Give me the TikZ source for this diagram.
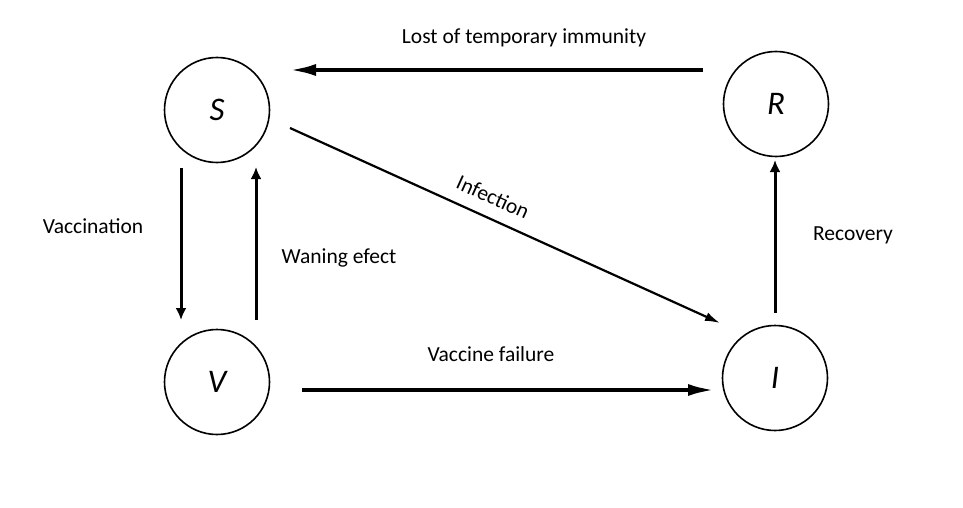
\documentclass[tikz,border=0pt]{standalone}
\usepackage{fontspec}
\setmainfont{Carlito}
\usetikzlibrary{arrows.meta,calc}
\begin{document}
\begin{tikzpicture}[x=1pt,y=1pt,
  state/.style={draw,circle,line width=1.6pt,minimum size=105pt,inner sep=0pt,font=\fontsize{33}{38}\selectfont\itshape},
  lbl/.style={font=\fontsize{21.5}{26}\selectfont},
  bigarrow/.style={line width=3.6pt,-{Latex[length=26pt,width=12pt]}},
  midarrow/.style={line width=3pt,-{Latex[length=12pt,width=11pt]}},
  thinarrow/.style={line width=2.2pt,-{Latex[length=15pt,width=9pt]}}]
\useasboundingbox (0,0) rectangle (963,507);
\node[state] (S) at (217,397) {S};
\node[state] (R) at (776,403) {R};
\node[state] (I) at (775,129) {I};
\node[state] (V) at (217,125) {V};
% connector end points
\coordinate (RS1) at (703,437);
\coordinate (RS2) at (290,437);
\coordinate (SV1) at (181,339);
\coordinate (SV2) at (181,187);
\coordinate (VS1) at (256,187);
\coordinate (VS2) at (256,340);
\coordinate (SI1) at (290,379);
\coordinate (SI2) at (720,184);
\coordinate (VI1) at (302,117);
\coordinate (VI2) at (714,117);
\coordinate (IR1) at (775,194);
\coordinate (IR2) at (775,347);
\draw[bigarrow] (RS1) -- (RS2);
\draw[midarrow] (SV1) -- (SV2);
\draw[midarrow] (VS1) -- (VS2);
\draw[thinarrow] (SI1) -- (SI2);
\draw[bigarrow] (VI1) -- (VI2);
\draw[midarrow] (IR1) -- (IR2);
\node[lbl] (l1) at (524,469) {Lost of temporary immunity};
\node[lbl] (l2) at (93,281) {Vaccination};
\node[lbl] (l3) at (339,249) {Waning efect};
\node[lbl,rotate=-24.4,inner sep=0pt] (l4) at (493,310) {Infection};
\node[lbl] (l5) at (491,153) {Vaccine failure};
\node[lbl] (l6) at (853,272) {Recovery};
\end{tikzpicture}
\end{document}
